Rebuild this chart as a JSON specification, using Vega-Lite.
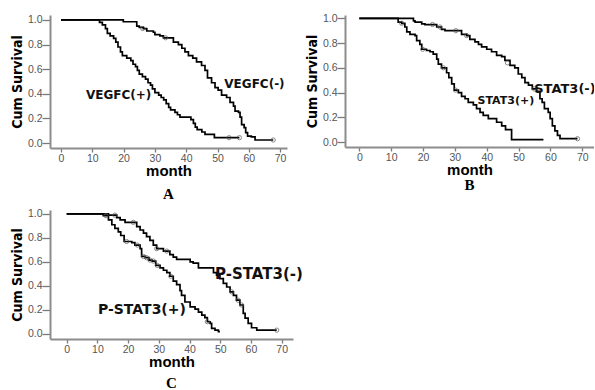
{
  "$schema": "https://vega.github.io/schema/vega-lite/v6.json",
  "padding": {"left": 10, "top": 13, "right": 0, "bottom": 0},
  "background": "white",
  "datasets": {
    "a": [
      {"g": "p", "m": 0, "s": 1}, {"g": "p", "m": 12.3, "s": 0.98}, {"g": "p", "m": 13.2, "s": 0.96}, {"g": "p", "m": 14.2, "s": 0.93}, {"g": "p", "m": 14.8, "s": 0.89}, {"g": "p", "m": 15.7, "s": 0.87}, {"g": "p", "m": 16.8, "s": 0.85}, {"g": "p", "m": 17.5, "s": 0.82}, {"g": "p", "m": 18.2, "s": 0.78}, {"g": "p", "m": 19, "s": 0.74}, {"g": "p", "m": 19.6, "s": 0.71}, {"g": "p", "m": 21, "s": 0.69}, {"g": "p", "m": 22.3, "s": 0.67}, {"g": "p", "m": 23, "s": 0.64}, {"g": "p", "m": 23.8, "s": 0.62}, {"g": "p", "m": 24.4, "s": 0.59}, {"g": "p", "m": 25, "s": 0.56}, {"g": "p", "m": 26, "s": 0.54}, {"g": "p", "m": 27, "s": 0.52}, {"g": "p", "m": 27.8, "s": 0.49}, {"g": "p", "m": 28.6, "s": 0.47}, {"g": "p", "m": 29.2, "s": 0.44}, {"g": "p", "m": 30, "s": 0.41}, {"g": "p", "m": 31.2, "s": 0.39}, {"g": "p", "m": 32, "s": 0.37}, {"g": "p", "m": 32.8, "s": 0.35}, {"g": "p", "m": 33.6, "s": 0.32}, {"g": "p", "m": 34.4, "s": 0.29}, {"g": "p", "m": 35, "s": 0.27}, {"g": "p", "m": 36.4, "s": 0.25}, {"g": "p", "m": 37.2, "s": 0.23}, {"g": "p", "m": 38, "s": 0.21}, {"g": "p", "m": 41.5, "s": 0.19}, {"g": "p", "m": 42.3, "s": 0.16}, {"g": "p", "m": 42.9, "s": 0.13}, {"g": "p", "m": 43.5, "s": 0.11}, {"g": "p", "m": 45, "s": 0.09}, {"g": "p", "m": 46, "s": 0.07}, {"g": "p", "m": 49, "s": 0.044}, {"g": "p", "m": 57, "s": 0.044},
      {"g": "n", "m": 0, "s": 1}, {"g": "n", "m": 19.9, "s": 0.985}, {"g": "n", "m": 24.2, "s": 0.95}, {"g": "n", "m": 25, "s": 0.94}, {"g": "n", "m": 26.3, "s": 0.93}, {"g": "n", "m": 27.4, "s": 0.91}, {"g": "n", "m": 29.5, "s": 0.9}, {"g": "n", "m": 30, "s": 0.88}, {"g": "n", "m": 31.6, "s": 0.87}, {"g": "n", "m": 32.7, "s": 0.855}, {"g": "n", "m": 35.9, "s": 0.82}, {"g": "n", "m": 37.5, "s": 0.8}, {"g": "n", "m": 38.6, "s": 0.77}, {"g": "n", "m": 39.6, "s": 0.74}, {"g": "n", "m": 40.7, "s": 0.71}, {"g": "n", "m": 42.1, "s": 0.69}, {"g": "n", "m": 43.3, "s": 0.66}, {"g": "n", "m": 44.9, "s": 0.63}, {"g": "n", "m": 46, "s": 0.59}, {"g": "n", "m": 46.8, "s": 0.53}, {"g": "n", "m": 48.1, "s": 0.49}, {"g": "n", "m": 49.2, "s": 0.45}, {"g": "n", "m": 50.2, "s": 0.43}, {"g": "n", "m": 51.3, "s": 0.39}, {"g": "n", "m": 52.9, "s": 0.37}, {"g": "n", "m": 54, "s": 0.33}, {"g": "n", "m": 55.1, "s": 0.3}, {"g": "n", "m": 55.6, "s": 0.26}, {"g": "n", "m": 56.7, "s": 0.25}, {"g": "n", "m": 57.2, "s": 0.21}, {"g": "n", "m": 57.7, "s": 0.15}, {"g": "n", "m": 58.5, "s": 0.125}, {"g": "n", "m": 59, "s": 0.085}, {"g": "n", "m": 59.6, "s": 0.057}, {"g": "n", "m": 60.8, "s": 0.05}, {"g": "n", "m": 62, "s": 0.025}, {"g": "n", "m": 67.8, "s": 0.025}
    ],
    "ac": [
      {"m": 53.7, "s": 0.044}, {"m": 57, "s": 0.044}, {"m": 67.8, "s": 0.025}, {"m": 26.1, "s": 0.93}, {"m": 33.4, "s": 0.855}
    ],
    "b": [
      {"g": "p", "m": 0, "s": 1}, {"g": "p", "m": 12.2, "s": 0.97}, {"g": "p", "m": 13.3, "s": 0.96}, {"g": "p", "m": 14.3, "s": 0.93}, {"g": "p", "m": 14.9, "s": 0.89}, {"g": "p", "m": 15.9, "s": 0.87}, {"g": "p", "m": 17.5, "s": 0.86}, {"g": "p", "m": 18, "s": 0.82}, {"g": "p", "m": 19, "s": 0.79}, {"g": "p", "m": 19.6, "s": 0.75}, {"g": "p", "m": 21.1, "s": 0.74}, {"g": "p", "m": 22.2, "s": 0.73}, {"g": "p", "m": 23.2, "s": 0.71}, {"g": "p", "m": 24.3, "s": 0.67}, {"g": "p", "m": 24.8, "s": 0.63}, {"g": "p", "m": 25.8, "s": 0.6}, {"g": "p", "m": 27.4, "s": 0.56}, {"g": "p", "m": 28.1, "s": 0.52}, {"g": "p", "m": 29, "s": 0.47}, {"g": "p", "m": 29.8, "s": 0.42}, {"g": "p", "m": 31.1, "s": 0.4}, {"g": "p", "m": 32.1, "s": 0.37}, {"g": "p", "m": 33.2, "s": 0.35}, {"g": "p", "m": 34.2, "s": 0.32}, {"g": "p", "m": 35.8, "s": 0.3}, {"g": "p", "m": 36.8, "s": 0.27}, {"g": "p", "m": 37.9, "s": 0.24}, {"g": "p", "m": 38.9, "s": 0.215}, {"g": "p", "m": 40.5, "s": 0.19}, {"g": "p", "m": 43.1, "s": 0.16}, {"g": "p", "m": 44.7, "s": 0.13}, {"g": "p", "m": 45.9, "s": 0.1}, {"g": "p", "m": 47.8, "s": 0.02}, {"g": "p", "m": 57.8, "s": 0.02},
      {"g": "n", "m": 0, "s": 1}, {"g": "n", "m": 17, "s": 0.98}, {"g": "n", "m": 17.5, "s": 0.97}, {"g": "n", "m": 19.6, "s": 0.955}, {"g": "n", "m": 20.6, "s": 0.95}, {"g": "n", "m": 24.3, "s": 0.93}, {"g": "n", "m": 25.8, "s": 0.91}, {"g": "n", "m": 26.9, "s": 0.9}, {"g": "n", "m": 32.1, "s": 0.87}, {"g": "n", "m": 33.7, "s": 0.86}, {"g": "n", "m": 34.7, "s": 0.83}, {"g": "n", "m": 36.3, "s": 0.81}, {"g": "n", "m": 37.4, "s": 0.79}, {"g": "n", "m": 38.4, "s": 0.77}, {"g": "n", "m": 40, "s": 0.75}, {"g": "n", "m": 41.5, "s": 0.73}, {"g": "n", "m": 43.1, "s": 0.7}, {"g": "n", "m": 44.7, "s": 0.69}, {"g": "n", "m": 45.7, "s": 0.66}, {"g": "n", "m": 47.3, "s": 0.62}, {"g": "n", "m": 48.8, "s": 0.6}, {"g": "n", "m": 49.9, "s": 0.55}, {"g": "n", "m": 51, "s": 0.52}, {"g": "n", "m": 52, "s": 0.48}, {"g": "n", "m": 53.1, "s": 0.46}, {"g": "n", "m": 54.3, "s": 0.43}, {"g": "n", "m": 55.7, "s": 0.41}, {"g": "n", "m": 56.7, "s": 0.35}, {"g": "n", "m": 57.4, "s": 0.32}, {"g": "n", "m": 58.1, "s": 0.27}, {"g": "n", "m": 59.3, "s": 0.24}, {"g": "n", "m": 59.9, "s": 0.19}, {"g": "n", "m": 60.6, "s": 0.13}, {"g": "n", "m": 61.4, "s": 0.09}, {"g": "n", "m": 62.2, "s": 0.054}, {"g": "n", "m": 63, "s": 0.027}, {"g": "n", "m": 68.5, "s": 0.027}
    ],
    "bc": [
      {"m": 13.3, "s": 0.96}, {"m": 19.9, "s": 0.75}, {"m": 26.4, "s": 0.6}, {"m": 30.2, "s": 0.42},
      {"m": 23, "s": 0.95}, {"m": 25.3, "s": 0.93}, {"m": 30.3, "s": 0.9}, {"m": 33.7, "s": 0.86}, {"m": 46.5, "s": 0.64}, {"m": 54.9, "s": 0.43}, {"m": 68.5, "s": 0.027}
    ],
    "c": [
      {"g": "p", "m": 0, "s": 1}, {"g": "p", "m": 11.9, "s": 0.986}, {"g": "p", "m": 13.6, "s": 0.95}, {"g": "p", "m": 14.7, "s": 0.91}, {"g": "p", "m": 15.7, "s": 0.88}, {"g": "p", "m": 16.8, "s": 0.85}, {"g": "p", "m": 17.6, "s": 0.82}, {"g": "p", "m": 18.7, "s": 0.77}, {"g": "p", "m": 21.2, "s": 0.76}, {"g": "p", "m": 22.2, "s": 0.74}, {"g": "p", "m": 23.9, "s": 0.71}, {"g": "p", "m": 24.4, "s": 0.645}, {"g": "p", "m": 25.6, "s": 0.635}, {"g": "p", "m": 26.8, "s": 0.615}, {"g": "p", "m": 27.8, "s": 0.607}, {"g": "p", "m": 29, "s": 0.57}, {"g": "p", "m": 30.4, "s": 0.55}, {"g": "p", "m": 31.5, "s": 0.53}, {"g": "p", "m": 32.6, "s": 0.51}, {"g": "p", "m": 33.6, "s": 0.48}, {"g": "p", "m": 34.7, "s": 0.44}, {"g": "p", "m": 35.8, "s": 0.41}, {"g": "p", "m": 36.9, "s": 0.36}, {"g": "p", "m": 37.4, "s": 0.32}, {"g": "p", "m": 38.5, "s": 0.265}, {"g": "p", "m": 40.2, "s": 0.225}, {"g": "p", "m": 41.8, "s": 0.206}, {"g": "p", "m": 42.9, "s": 0.18}, {"g": "p", "m": 44, "s": 0.156}, {"g": "p", "m": 45, "s": 0.134}, {"g": "p", "m": 45.8, "s": 0.1}, {"g": "p", "m": 46.7, "s": 0.086}, {"g": "p", "m": 47.2, "s": 0.045}, {"g": "p", "m": 48.3, "s": 0.03}, {"g": "p", "m": 49.4, "s": 0.017}, {"g": "p", "m": 49.9, "s": 0.017},
      {"g": "n", "m": 0, "s": 1}, {"g": "n", "m": 13.6, "s": 0.99}, {"g": "n", "m": 16.3, "s": 0.97}, {"g": "n", "m": 17.4, "s": 0.95}, {"g": "n", "m": 19, "s": 0.93}, {"g": "n", "m": 22.8, "s": 0.894}, {"g": "n", "m": 23.9, "s": 0.866}, {"g": "n", "m": 25, "s": 0.84}, {"g": "n", "m": 26, "s": 0.81}, {"g": "n", "m": 27.1, "s": 0.78}, {"g": "n", "m": 28.2, "s": 0.74}, {"g": "n", "m": 29.3, "s": 0.71}, {"g": "n", "m": 31.5, "s": 0.69}, {"g": "n", "m": 33.6, "s": 0.66}, {"g": "n", "m": 34.7, "s": 0.64}, {"g": "n", "m": 35.8, "s": 0.62}, {"g": "n", "m": 40.2, "s": 0.6}, {"g": "n", "m": 41.2, "s": 0.59}, {"g": "n", "m": 42.9, "s": 0.55}, {"g": "n", "m": 47.8, "s": 0.51}, {"g": "n", "m": 48.8, "s": 0.49}, {"g": "n", "m": 49.9, "s": 0.46}, {"g": "n", "m": 51, "s": 0.42}, {"g": "n", "m": 52.1, "s": 0.39}, {"g": "n", "m": 53.2, "s": 0.35}, {"g": "n", "m": 54.3, "s": 0.32}, {"g": "n", "m": 55.3, "s": 0.28}, {"g": "n", "m": 56.4, "s": 0.24}, {"g": "n", "m": 57.5, "s": 0.17}, {"g": "n", "m": 58.1, "s": 0.13}, {"g": "n", "m": 59.1, "s": 0.086}, {"g": "n", "m": 60.2, "s": 0.05}, {"g": "n", "m": 61.9, "s": 0.03}, {"g": "n", "m": 68.4, "s": 0.03}
    ],
    "cc": [
      {"m": 12.8, "s": 0.986}, {"m": 19.5, "s": 0.77}, {"m": 23, "s": 0.74}, {"m": 25, "s": 0.645}, {"m": 26, "s": 0.635}, {"m": 27.1, "s": 0.615}, {"m": 28.2, "s": 0.607}, {"m": 29.5, "s": 0.57}, {"m": 33.9, "s": 0.48}, {"m": 45.8, "s": 0.1},
      {"m": 15.7, "s": 0.99}, {"m": 21.7, "s": 0.93}, {"m": 29.3, "s": 0.71}, {"m": 32.6, "s": 0.69}, {"m": 53.7, "s": 0.35}, {"m": 55.8, "s": 0.28}, {"m": 56.9, "s": 0.24}, {"m": 68.4, "s": 0.03}
    ]
  },
  "vconcat": [
    {
      "hconcat": [
        {
          "width": 237,
          "height": 133,
          "title": {"text": "A", "orient": "bottom", "offset": 8},
          "layer": [
            {
              "data": {"name": "a"},
              "mark": {"type": "line", "interpolate": "step-after", "color": "black", "strokeWidth": 1.7},
              "encoding": {
                "x": {"field": "m", "type": "quantitative", "scale": {"domain": [-3.52, 72.2], "nice": false, "zero": false}, "axis": {"values": [0, 10, 20, 30, 40, 50, 60, 70], "tickCount": 20, "title": "month", "labelOverlap": false}},
                "y": {"field": "s", "type": "quantitative", "scale": {"domain": [-0.04, 1.04], "nice": false, "zero": false}, "axis": {"values": [0, 0.2, 0.4, 0.6, 0.8, 1], "tickCount": 20, "format": ".1f", "title": "Cum Survival", "labelOverlap": false}},
                "detail": {"field": "g"}
              }
            },
            {
              "data": {"name": "ac"},
              "mark": {"type": "point", "shape": "circle", "filled": false, "size": 18, "color": "#555", "strokeWidth": 1},
              "encoding": {
                "x": {"field": "m", "type": "quantitative"},
                "y": {"field": "s", "type": "quantitative"}
              }
            },
            {
              "data": {"values": [{"m": 18.4, "s": 0.39, "t": "VEGFC(+)"}, {"m": 61.8, "s": 0.48, "t": "VEGFC(-)"}]},
              "mark": {"type": "text", "font": "DejaVu Sans", "fontWeight": "bold", "fontSize": 12, "color": "#111"},
              "encoding": {
                "x": {"field": "m", "type": "quantitative"},
                "y": {"field": "s", "type": "quantitative"},
                "text": {"field": "t"}
              }
            }
          ]
        },
        {
          "width": 249,
          "height": 132,
          "title": {"text": "B", "orient": "bottom", "offset": 0},
          "layer": [
            {
              "data": {"name": "b"},
              "mark": {"type": "line", "interpolate": "step-after", "color": "black", "strokeWidth": 1.7},
              "encoding": {
                "x": {"field": "m", "type": "quantitative", "scale": {"domain": [-4.49, 73.67], "nice": false, "zero": false}, "axis": {"values": [0, 10, 20, 30, 40, 50, 60, 70], "tickCount": 20, "title": "month", "labelOverlap": false}},
                "y": {"field": "s", "type": "quantitative", "scale": {"domain": [-0.04, 1.027], "nice": false, "zero": false}, "axis": {"values": [0, 0.2, 0.4, 0.6, 0.8, 1], "tickCount": 20, "format": ".1f", "title": "Cum Survival", "labelOverlap": false}},
                "detail": {"field": "g"}
              }
            },
            {
              "data": {"name": "bc"},
              "mark": {"type": "point", "shape": "circle", "filled": false, "size": 18, "color": "#555", "strokeWidth": 1},
              "encoding": {
                "x": {"field": "m", "type": "quantitative"},
                "y": {"field": "s", "type": "quantitative"}
              }
            },
            {
              "data": {"values": [{"m": 46.0, "s": 0.33, "t": "STAT3(+)"}]},
              "mark": {"type": "text", "font": "DejaVu Sans", "fontWeight": "bold", "fontSize": 11, "color": "#111"},
              "encoding": {
                "x": {"field": "m", "type": "quantitative"},
                "y": {"field": "s", "type": "quantitative"},
                "text": {"field": "t"}
              }
            },
            {
              "data": {"values": [{"m": 54.9, "s": 0.425, "t": "STAT3(-)"}]},
              "mark": {"type": "text", "font": "DejaVu Sans", "fontWeight": "bold", "fontSize": 13, "color": "#111", "align": "left", "clip": true},
              "encoding": {
                "x": {"field": "m", "type": "quantitative"},
                "y": {"field": "s", "type": "quantitative"},
                "text": {"field": "t"}
              }
            }
          ]
        }
      ],
      "spacing": 18
    },
    {
      "width": 243,
      "height": 129,
      "title": {"text": "C", "orient": "bottom", "offset": 6},
      "layer": [
        {
          "data": {"name": "c"},
          "mark": {"type": "line", "interpolate": "step-after", "color": "black", "strokeWidth": 1.7},
          "encoding": {
            "x": {"field": "m", "type": "quantitative", "scale": {"domain": [-5.44, 73.7], "nice": false, "zero": false}, "axis": {"values": [0, 10, 20, 30, 40, 50, 60, 70], "tickCount": 20, "title": "month", "labelOverlap": false}},
            "y": {"field": "s", "type": "quantitative", "scale": {"domain": [-0.044, 1.033], "nice": false, "zero": false}, "axis": {"values": [0, 0.2, 0.4, 0.6, 0.8, 1], "tickCount": 20, "format": ".1f", "title": "Cum Survival", "labelOverlap": false}},
            "detail": {"field": "g"}
          }
        },
        {
          "data": {"name": "cc"},
          "mark": {"type": "point", "shape": "circle", "filled": false, "size": 18, "color": "#555", "strokeWidth": 1},
          "encoding": {
            "x": {"field": "m", "type": "quantitative"},
            "y": {"field": "s", "type": "quantitative"}
          }
        },
        {
          "data": {"values": [{"m": 24.5, "s": 0.198, "t": "P-STAT3(+)"}]},
          "mark": {"type": "text", "font": "DejaVu Sans", "fontWeight": "bold", "fontSize": 14, "color": "#111"},
          "encoding": {
            "x": {"field": "m", "type": "quantitative"},
            "y": {"field": "s", "type": "quantitative"},
            "text": {"field": "t"}
          }
        },
        {
          "data": {"values": [{"m": 48.3, "s": 0.5, "t": "P-STAT3(-)"}]},
          "mark": {"type": "text", "font": "DejaVu Sans", "fontWeight": "bold", "fontSize": 15, "color": "#111", "align": "left"},
          "encoding": {
            "x": {"field": "m", "type": "quantitative"},
            "y": {"field": "s", "type": "quantitative"},
            "text": {"field": "t"}
          }
        }
      ]
    }
  ],
  "spacing": 6,
  "config": {
    "view": {"stroke": null},
    "axis": {
      "grid": false,
      "domainColor": "#8c8c8c",
      "domainWidth": 2,
      "tickColor": "#7a7a7a",
      "tickWidth": 1.3,
      "labelColor": "#555",
      "labelFont": "Liberation Sans",
      "labelFontSize": 10.5,
      "labelOverlap": false,
      "labelFlush": false,
      "titleColor": "#000"
    },
    "axisX": {
      "tickSize": 4,
      "labelPadding": 1,
      "titleFont": "Liberation Sans",
      "titleFontSize": 15,
      "titleFontWeight": "bold",
      "titlePadding": 0
    },
    "axisY": {
      "tickSize": 8,
      "labelPadding": 0,
      "titleFont": "Liberation Sans Narrow, DejaVu Sans Condensed, Liberation Sans",
      "titleFontSize": 14,
      "titleFontWeight": "bold",
      "titlePadding": 3
    },
    "title": {
      "font": "Liberation Serif",
      "fontSize": 15,
      "fontWeight": "bold",
      "color": "#000"
    }
  }
}
